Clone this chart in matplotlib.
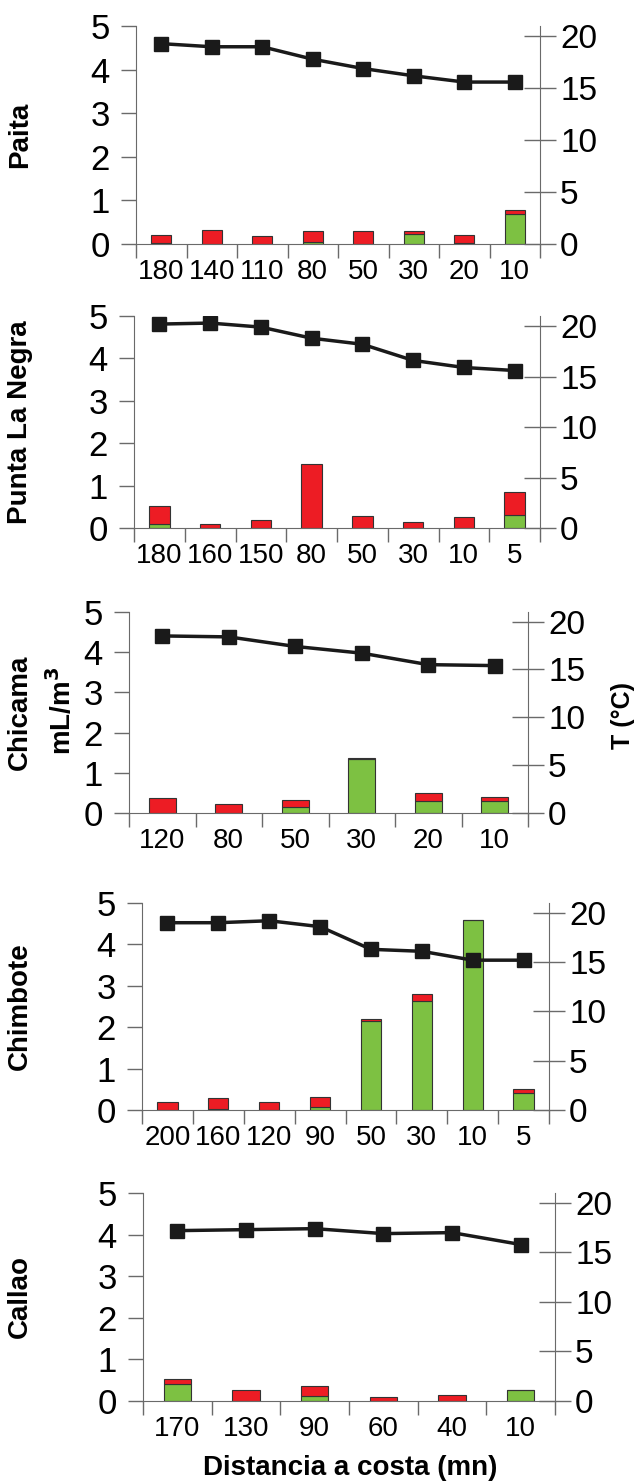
import numpy as np
import matplotlib.pyplot as plt

plt.rcParams['font.family'] = ['Liberation Sans', 'DejaVu Sans']

# distance to coast (nautical miles) per transect
paita_x = ['180', '140', '110', '80', '50', '30', '20', '10']
paita_green = [0.02, 0.0, 0.0, 0.05, 0.0, 0.24, 0.02, 0.68]
paita_total = [0.21, 0.31, 0.18, 0.29, 0.29, 0.29, 0.21, 0.79]
paita_temp = [19.3, 19.0, 19.0, 17.8, 16.9, 16.2, 15.6, 15.6]

negra_x = ['180', '160', '150', '80', '50', '30', '10', '5']
negra_green = [0.09, 0.0, 0.0, 0.0, 0.0, 0.0, 0.0, 0.31]
negra_total = [0.53, 0.10, 0.18, 1.50, 0.28, 0.15, 0.25, 0.86]
negra_temp = [20.2, 20.3, 19.9, 18.8, 18.2, 16.6, 15.9, 15.6]

chicama_x = ['120', '80', '50', '30', '20', '10']
chicama_green = [0.0, 0.0, 0.14, 1.34, 0.30, 0.30]
chicama_total = [0.37, 0.22, 0.33, 1.38, 0.49, 0.41]
chicama_temp = [18.5, 18.4, 17.4, 16.7, 15.5, 15.4]

chimbote_x = ['200', '160', '120', '90', '50', '30', '10', '5']
chimbote_green = [0.0, 0.03, 0.0, 0.07, 2.14, 2.63, 4.58, 0.40]
chimbote_total = [0.19, 0.30, 0.19, 0.31, 2.19, 2.79, 4.60, 0.51]
chimbote_temp = [19.0, 19.0, 19.2, 18.6, 16.3, 16.1, 15.2, 15.2]

callao_x = ['170', '130', '90', '60', '40', '10']
callao_green = [0.42, 0.0, 0.13, 0.0, 0.0, 0.26]
callao_total = [0.54, 0.26, 0.36, 0.10, 0.14, 0.26]
callao_temp = [17.2, 17.3, 17.4, 16.9, 17.0, 15.8]

names = ['Paita', 'Punta La Negra', 'Chicama', 'Chimbote', 'Callao']
xs = [paita_x, negra_x, chicama_x, chimbote_x, callao_x]
greens = [paita_green, negra_green, chicama_green, chimbote_green, callao_green]
totals = [paita_total, negra_total, chicama_total, chimbote_total, callao_total]
temps = [paita_temp, negra_temp, chicama_temp, chimbote_temp, callao_temp]

W, H = 642, 1483
# axes boxes in pixels: left, right, top, bottom
boxes = [(136, 540, 26, 244), (134, 540, 316, 528), (129, 528, 612, 813),
         (142, 549, 903, 1110), (143, 555, 1193, 1401)]

GREEN = '#7DC142'
RED = '#ED1C24'
SPINE = '#6a6a6a'

fig = plt.figure(figsize=(W / 100, H / 100), dpi=100)

for i in range(5):
    l, r, t, b = boxes[i]
    ax = fig.add_axes([l / W, 1 - b / H, (r - l) / W, (b - t) / H])
    n = len(xs[i])
    pos = np.arange(n)
    g = np.array(greens[i])
    red = np.array(totals[i]) - g
    ax.bar(pos, g, width=0.4, color=GREEN, edgecolor='#333333', linewidth=0.8, zorder=2)
    ax.bar(pos, red, bottom=g, width=0.4, color=RED, edgecolor='#333333', linewidth=0.8, zorder=2)
    ax.set_xlim(-0.5, n - 0.5)
    ax.set_ylim(0, 5)
    ax.set_yticks(range(6))
    ax.set_xticks(np.arange(n + 1) - 0.5)
    ax.set_xticklabels([])
    ax.set_xticks(pos, minor=True)
    ax.set_xticklabels(xs[i], minor=True, fontsize=20)
    ax.tick_params(axis='x', which='major', length=10, color=SPINE, width=1)
    ax.tick_params(axis='x', which='minor', length=0, pad=11)
    ax.tick_params(axis='y', length=11, color=SPINE, width=1, labelsize=25, pad=8)
    for s in ['top', 'right']:
        ax.spines[s].set_visible(False)
    for s in ['left', 'bottom']:
        ax.spines[s].set_color(SPINE)

    ax2 = ax.twinx()
    ax2.plot(pos, temps[i], color='#1a1a1a', lw=2.5, marker='s', ms=10.5, zorder=3)
    ax2.set_ylim(0, 21)
    ax2.set_yticks([0, 5, 10, 15, 20])
    ax2.tick_params(axis='y', direction='inout', length=23, color=SPINE, width=1,
                    labelsize=24, pad=3)
    for s in ['top', 'left', 'bottom']:
        ax2.spines[s].set_visible(False)
    ax2.spines['right'].set_color(SPINE)

    fig.text(20 / W, 1 - (t + b) / 2 / H, names[i], rotation=90, ha='center', va='center',
             fontsize=20, fontweight='bold')

fig.text(62 / W, 1 - 711 / H, 'mL/m$^\\mathbf{3}$', rotation=90, ha='center', va='center',
         fontsize=20, fontweight='bold')
fig.text(623 / W, 1 - 716 / H, 'T (°C)', rotation=90, ha='center', va='center',
         fontsize=18, fontweight='bold')
fig.text(350 / W, 1 - 1468 / H, 'Distancia a costa (mn)', ha='center', va='center',
         fontsize=20, fontweight='bold')

fig.savefig('out.png', dpi=100)
